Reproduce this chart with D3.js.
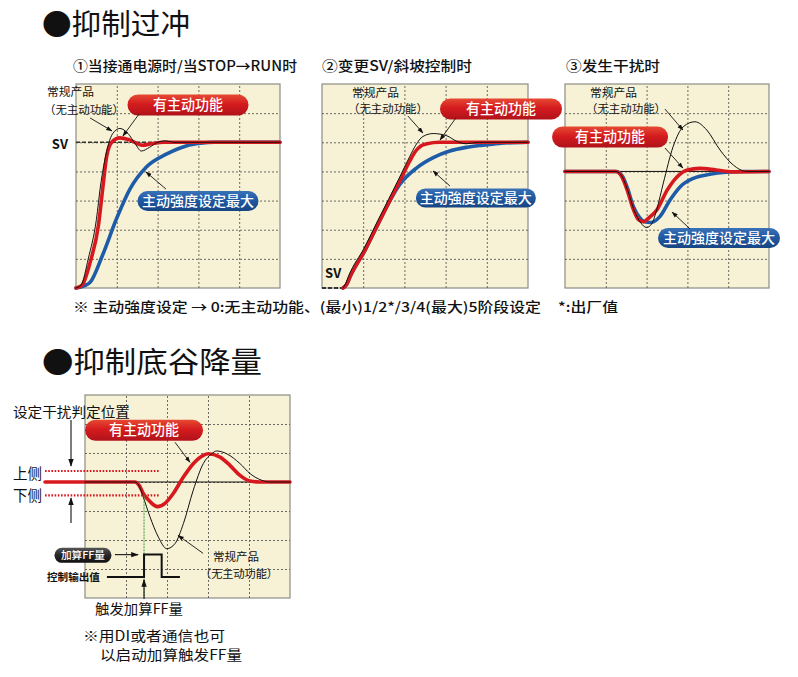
<!DOCTYPE html>
<html><head><meta charset="utf-8">
<script src="https://cdn.jsdelivr.net/npm/d3@7"></script>
<style>
body{margin:0;background:#fff}
text{font-family:"Noto Sans CJK SC","Noto Sans",sans-serif;white-space:pre}
</style></head><body>
<svg id="c" width="798" height="677"></svg>
<script>
// ---------- data ----------
const xGrid = [20, 40, 60, 80];
const yGridSV = [20, 40, 60, 80, 100, 120];
const yGridDev = [-60, -40, -20, 0, 20, 40];

// ① power on / STOP->RUN (y: % of SV)
const p1Normal = [[0,0],[2.5,2],[6,20],[10,47],[12,70],[14,87],[18,106],[21.5,109.5],[25.5,106],[29,99],[32,94],[36,96.5],[40,100],[44,101],[48,100],[100,100]];
const p1Active = [[0,0],[3,2],[7,18],[11,43],[13,67],[15,90],[17.5,100],[21.5,103],[26.5,101.5],[32.5,98],[37,99],[43,100],[55,100],[100,100]];
const p1Max    = [[0,0],[4,1.5],[7,4],[13,22.5],[20,48],[26.5,68],[34.5,83],[44.5,92],[54,97.5],[61,99.3],[68,100],[100,100]];
// ② SV change / ramp
const p2Normal = [[10.2,0],[11.5,3],[13,8.5],[20.5,27.5],[27,46],[37.5,75.5],[42.5,90],[45.5,98],[49,104],[54,106],[60.5,104.5],[65.5,100.6],[70,99],[76,100],[100,100]];
const p2Active = [[10.2,0],[12,2.5],[13.6,7.7],[20.9,26],[27.3,44.2],[37.9,73.8],[42.7,87.4],[45.5,94],[48,97.5],[51,99],[57,100],[100,100]];
const p2Max    = [[10.2,0],[12,2.5],[13.6,7.7],[20.9,26],[27.3,44.2],[33,60],[38,71.5],[46,82.5],[54,89.5],[62,94],[70,96.5],[78,98],[86,99.2],[100,100]];
// ③ disturbance (y: deviation)
const p3Normal = [[0,0],[25,0],[28,-3.5],[30.5,-12],[34,-27],[37,-35],[40,-38.5],[42.5,-36],[45,-26],[48.2,-8],[53,17],[58,30.7],[63.7,34.1],[69.5,28.4],[76,14.7],[82.5,4.4],[89,0],[100,0]];
const p3Active = [[0,0],[25,0],[28,-4],[30.5,-12.8],[33.5,-26],[36,-33],[38.5,-34.5],[41,-32],[45,-26.5],[50,-13],[55,-3.6],[60,1],[66,2.1],[74,1],[82,-0.3],[100,0]];
const p3Max    = [[0,0],[25,0],[28,-3],[30.5,-11],[33.5,-24],[36.5,-31.5],[39,-34.5],[42,-35],[46.5,-31],[51.5,-19.6],[56.5,-10.5],[63,-4.7],[71,-2],[79,-0.6],[88,-0.1],[100,0]];
// ④ suppress undershoot
const p4Normal = [[0,0],[24.4,0],[26.5,-3],[28.4,-10.3],[31.7,-24],[35.8,-38],[39.9,-46],[43.9,-42.5],[48,-28.7],[52.8,-5.7],[57.7,12.7],[61.8,19.5],[64.2,21.4],[69.1,19.5],[75.6,12.7],[80.5,5.8],[86.2,1.2],[90,0],[100,0]];
const p4Active = [[-19.5,0],[24.4,0],[26.5,-2.5],[28.4,-7.8],[31.7,-13.5],[35.3,-17],[39,-14.7],[43.1,-7.8],[48,3.4],[52.8,12.6],[57.7,18.4],[60.1,19.5],[65.9,17.2],[70.7,11.5],[75.6,4.6],[80.5,0.7],[85.4,0],[100,0]];
const pulseX = [10.7, 28.8, 28.8, 37.4, 37.4, 46.3];
const pulseY = [-65.5, -65.5, -50, -50, -65.5, -65.5];
const judgeUpper = 7.6, judgeLower = -9.2;

const txtNormal1 = "常规产品", txtNormal2 = "（无主动功能）";
const txtActive = "有主动功能", txtMax = "主动強度设定最大";

// ---------- drawing ----------
const svg = d3.select("#c");
const defs = svg.append("defs");
function grad(id, c1, c2, c3){
  const g = defs.append("linearGradient").attr("id", id).attr("x1",0).attr("y1",0).attr("x2",0).attr("y2",1);
  g.append("stop").attr("offset","0%").attr("stop-color",c1);
  g.append("stop").attr("offset","45%").attr("stop-color",c2);
  g.append("stop").attr("offset","100%").attr("stop-color",c3);
}
grad("gRed", "#e64a33", "#d51c1f", "#b0121a");
grad("gBlue", "#3a72b8", "#215aa2", "#174582");
grad("gDark", "#555", "#2a2a2a", "#111");
defs.append("marker").attr("id","ah").attr("viewBox","0 0 10 10").attr("refX",9).attr("refY",5)
  .attr("markerWidth",7).attr("markerHeight",7).attr("orient","auto")
  .append("path").attr("d","M0,1.5L10,5L0,8.5Z").attr("fill","#111");

const RED = "#d7191f", BLUE = "#1f5ca8";

function panel(x0, y0, w, h, yd, yGrid){
  const x = d3.scaleLinear([0,100],[x0,x0+w]);
  const y = d3.scaleLinear(yd,[y0+h,y0]);
  const g = svg.append("g");
  g.append("rect").attr("x",x0).attr("y",y0).attr("width",w).attr("height",h)
    .attr("fill","#f7f2d5").attr("stroke","#8d8d85").attr("stroke-width",1.2);
  const gx = g.append("g").attr("transform",`translate(0,${y0+h})`)
    .call(d3.axisBottom(x).tickValues(xGrid).tickSize(-h).tickFormat(""));
  const gy = g.append("g").attr("transform",`translate(${x0},0)`)
    .call(d3.axisLeft(y).tickValues(yGrid).tickSize(-w).tickFormat(""));
  [gx,gy].forEach(a=>{
    a.select(".domain").remove();
    a.selectAll("line").attr("stroke","#5a5a55").attr("stroke-width",0.9).attr("stroke-dasharray","2,2");
  });
  return {g,x,y};
}
const lineGen = (P) => d3.line().x(d=>P.x(d[0])).y(d=>P.y(d[1])).curve(d3.curveMonotoneX);
function curve(P, data, color, width){
  P.g.append("path").datum(data).attr("d", lineGen(P)).attr("fill","none")
    .attr("stroke",color).attr("stroke-width",width).attr("stroke-linejoin","round").attr("stroke-linecap","round");
}
function text(g, x, y, s, fs, opt={}){
  const t = g.append("text").attr("x",x).attr("y",y).text(s).attr("font-size",fs)
    .attr("fill",opt.fill||"#111").attr("font-weight",opt.weight||400);
  if(opt.anchor) t.attr("text-anchor",opt.anchor);
  if(opt.len){ t.attr("textLength",opt.len).attr("lengthAdjust","spacingAndGlyphs"); }
  return t;
}
function arrow(g, x1, y1, x2, y2, sw=0.9){
  g.append("line").attr("x1",x1).attr("y1",y1).attr("x2",x2).attr("y2",y2)
    .attr("stroke","#111").attr("stroke-width",sw).attr("marker-end","url(#ah)");
}
function pill(g, cx, cy, w, h, fill, s, fs, len){
  g.append("rect").attr("x",cx-w/2).attr("y",cy-h/2).attr("width",w).attr("height",h)
    .attr("rx",h/2).attr("fill",fill);
  text(g, cx, cy+fs*0.36, s, fs, {fill:"#fff", anchor:"middle", weight:500, len});
}

// Titles
text(svg, 42, 35, "●抑制过冲", 29, {len:148});
text(svg, 42, 373, "●抑制底谷降量", 29, {len:220});
text(svg, 73, 71, "①当接通电源时/当STOP→RUN时", 14, {len:224, weight:500});
text(svg, 322, 71, "②变更SV/斜坡控制时", 14, {len:150, weight:500});
text(svg, 566, 71, "③发生干扰时", 14, {len:94, weight:500});
text(svg, 73, 312, "※ 主动強度设定 → 0:无主动功能、(最小)1/2*/3/4(最大)5阶段设定", 13.5, {len:468, weight:500});
text(svg, 558, 312, "*:出厂值", 13.5, {len:60, weight:500});

// ---- Panel 1
const P1 = panel(76, 84, 204, 204, [0,140], yGridSV);
P1.g.append("line").attr("x1",P1.x(0)).attr("x2",P1.x(100)).attr("y1",P1.y(100)).attr("y2",P1.y(100))
  .attr("stroke","#333").attr("stroke-width",1.6).attr("stroke-dasharray","4,2");
curve(P1, p1Max, BLUE, 3.6);
curve(P1, p1Active, RED, 3.6);
curve(P1, p1Normal, "#111", 1);
text(svg, P1.x(-3.9), P1.y(95.4), "SV", 13, {anchor:"end", weight:700});
text(svg, P1.x(-14.2), P1.y(131.8), txtNormal1, 11.5, {len:47});
text(svg, P1.x(-15.7), P1.y(119.4), txtNormal2, 11.5, {len:80});
arrow(svg, P1.x(6.9), P1.y(116.7), P1.x(17.6), P1.y(107.8));
pill(svg, P1.x(54.9), P1.y(125.6), 121, 21, "url(#gRed)", txtActive, 14.5, 70);
arrow(svg, P1.x(30.9), P1.y(119.4), P1.x(23), P1.y(104.3));
pill(svg, P1.x(59.8), P1.y(59.7), 121, 20, "url(#gBlue)", txtMax, 13.5, 112);
arrow(svg, P1.x(44.1), P1.y(67.9), P1.x(34.3), P1.y(79.6));

// ---- Panel 2
const P2 = panel(322, 84, 206, 204, [0,140], yGridSV);
P2.g.append("line").attr("x1",P2.x(0)).attr("x2",P2.x(10.2)).attr("y1",P2.y(0)).attr("y2",P2.y(0))
  .attr("stroke","#333").attr("stroke-width",1.8).attr("stroke-dasharray","4,2");
curve(P2, p2Max, BLUE, 3.6);
curve(P2, p2Active, RED, 3.6);
curve(P2, p2Normal, "#111", 1);
text(svg, P2.x(1.5), P2.y(6.9), "SV", 13, {weight:700});
text(svg, P2.x(14.6), P2.y(131.1), txtNormal1, 11.5, {len:47});
text(svg, P2.x(12.6), P2.y(120.1), txtNormal2, 11.5, {len:80});
arrow(svg, P2.x(41.7), P2.y(118), P2.x(49), P2.y(106.4));

// ---- Panel 3
const P3 = panel(565, 84, 204, 204, [-80,60], yGridDev);
P3.g.append("line").attr("x1",P3.x(0)).attr("x2",P3.x(100)).attr("y1",P3.y(0)).attr("y2",P3.y(0))
  .attr("stroke","#111").attr("stroke-width",1);
curve(P3, p3Max, BLUE, 3.6);
curve(P3, p3Active, RED, 3.6);
curve(P3, p3Normal, "#111", 1);
text(svg, P3.x(12.3), P3.y(51.1), txtNormal1, 11.5, {len:47});
text(svg, P3.x(10.3), P3.y(40.1), txtNormal2, 11.5, {len:80});
arrow(svg, P3.x(49), P3.y(42.8), P3.x(57.8), P3.y(28.4));
pill(svg, P3.x(22.1), P3.y(23.6), 116, 21, "url(#gRed)", txtActive, 14.5, 70);
arrow(svg, P3.x(49), P3.y(16.1), P3.x(57.8), P3.y(2.3));
pill(svg, P3.x(75.5), P3.y(-45.7), 122, 20, "url(#gBlue)", txtMax, 13.5, 112);
arrow(svg, P3.x(61.3), P3.y(-39.5), P3.x(52.5), P3.y(-27.9));

// panel 2 pills drawn after panel 3 (overlap)
pill(svg, P2.x(86.9), P2.y(122.9), 122, 21, "url(#gRed)", txtActive, 14.5, 70);
arrow(svg, P2.x(65), P2.y(116.7), P2.x(57.3), P2.y(101.6));
pill(svg, P2.x(74.7), P2.y(61.8), 120, 19, "url(#gBlue)", txtMax, 13.5, 112);
arrow(svg, P2.x(62.1), P2.y(70), P2.x(53.9), P2.y(80.3));

// ---- Panel 4
const P4 = panel(85, 395, 205, 203, [-80,60], yGridDev);
P4.g.append("line").attr("x1",P4.x(0)).attr("x2",P4.x(100)).attr("y1",P4.y(0)).attr("y2",P4.y(0))
  .attr("stroke","#111").attr("stroke-width",1);
[judgeUpper, judgeLower].forEach(v=>{
  svg.append("line").attr("x1",P4.x(-19.5)).attr("x2",P4.x(36.6)).attr("y1",P4.y(v)).attr("y2",P4.y(v))
    .attr("stroke",RED).attr("stroke-width",2.2).attr("stroke-dasharray","1.6,1.6");
});
svg.append("line").attr("x1",P4.x(28.8)).attr("x2",P4.x(28.8)).attr("y1",P4.y(judgeLower)).attr("y2",P4.y(-80))
  .attr("stroke","#3c9a3c").attr("stroke-width",1).attr("stroke-dasharray","2,1");
curve(P4, p4Active, RED, 3.6);
curve(P4, p4Normal, "#111", 1);
svg.append("path").datum(d3.zip(pulseX, pulseY))
  .attr("d", d3.line().x(d=>P4.x(d[0])).y(d=>P4.y(d[1])))
  .attr("fill","none").attr("stroke","#111").attr("stroke-width",2);
pill(svg, P4.x(28.8), P4.y(35.7), 118, 21, "url(#gRed)", txtActive, 14.5, 70);
arrow(svg, P4.x(43.9), P4.y(27.4), P4.x(51.2), P4.y(13.6));
text(svg, P4.x(62.4), P4.y(-54.7), txtNormal1, 11.5, {len:46});
text(svg, P4.x(56.1), P4.y(-66.4), txtNormal2, 11.5, {len:78});
arrow(svg, P4.x(57.6), P4.y(-49.2), P4.x(45.4), P4.y(-36.8));
text(svg, P4.x(7.3), P4.y(-68.4), "控制输出值", 10.5, {anchor:"end", weight:700, len:53});
pill(svg, P4.x(-1), P4.y(-50.6), 57, 15, "url(#gDark)", "加算FF量", 10, 44);
arrow(svg, P4.x(14.6), P4.y(-50.1), P4.x(25.9), P4.y(-50.1), 1.1);
arrow(svg, P4.x(28.8), P4.y(-80)+1, P4.x(28.8), P4.y(-67.4), 1.1);

text(svg, 13, 417, "设定干扰判定位置", 14, {len:117});
arrow(svg, 71, 420, 71, 466, 1.1);
arrow(svg, 71, 523, 71, 498, 1.1);
text(svg, 13, 479, "上侧", 15, {len:29});
text(svg, 13, 501, "下侧", 15, {len:29});
text(svg, 95, 614, "触发加算FF量", 14, {len:88});
text(svg, 83, 641, "※用DI或者通信也可", 14, {len:142});
text(svg, 100, 660, "以启动加算触发FF量", 14, {len:142});
</script>
</body></html>
